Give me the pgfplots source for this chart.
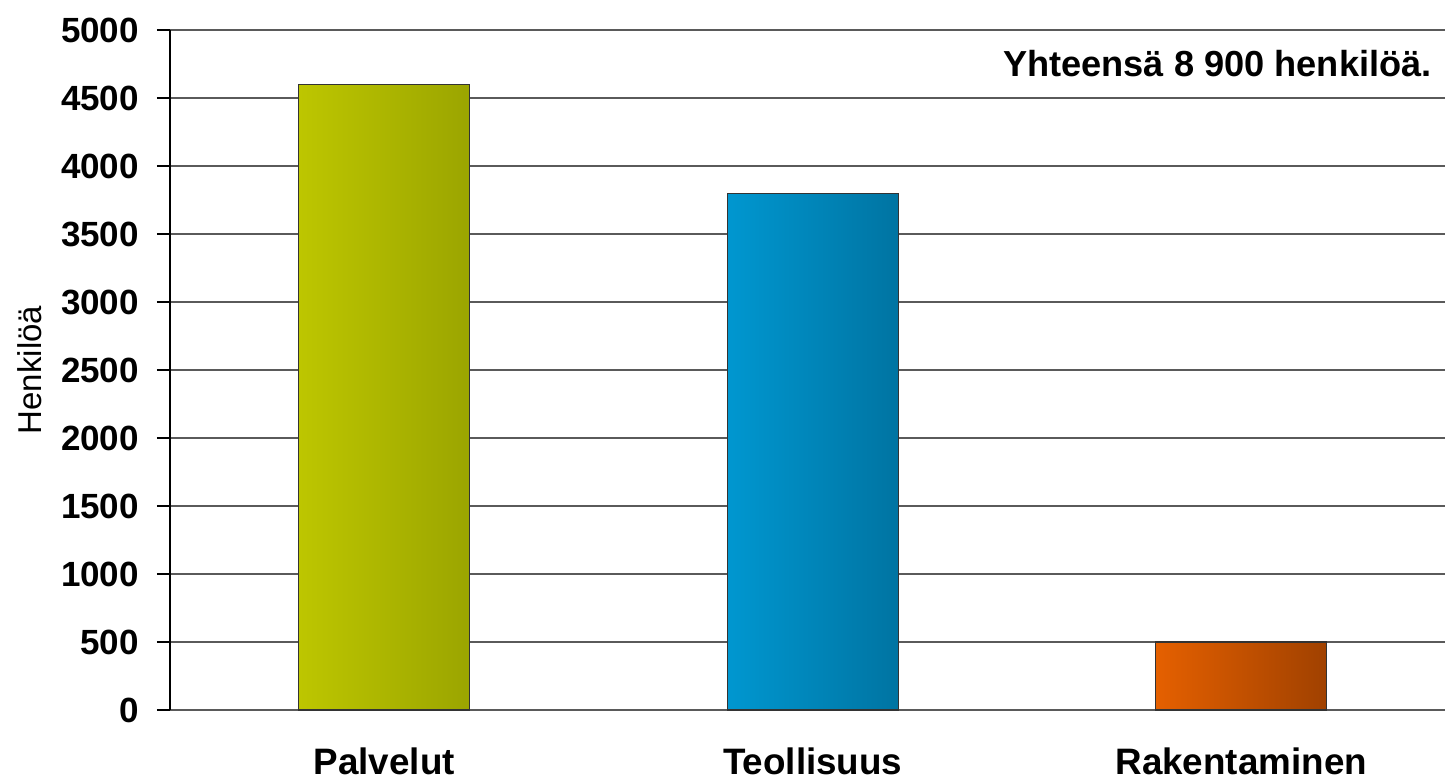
\documentclass[border=0pt]{standalone}
\usepackage{fontspec}
\setmainfont{Liberation Sans}
\usepackage{pgfplots}
\pgfplotsset{compat=1.18}
\usetikzlibrary{calc}
\definecolor{gA}{HTML}{BDC600}
\definecolor{gB}{HTML}{9BA500}
\definecolor{bA}{HTML}{0097D0}
\definecolor{bB}{HTML}{0074A2}
\definecolor{oA}{HTML}{E56000}
\definecolor{oB}{HTML}{A04100}
\definecolor{gridc}{HTML}{5A5A5A}
\begin{document}
\begin{tikzpicture}
\begin{axis}[
  scale only axis,
  width=642.75pt, height=340pt,
  xmin=-0.5, xmax=2.5,
  ymin=0, ymax=5000,
  ytick={0,500,...,5000},
  xtick={0,1,2},
  xticklabels={Palvelut,Teollisuus,Rakentaminen},
  axis x line*=bottom,
  axis y line*=left,
  x axis line style={draw=none},
  y axis line style={black, line width=1pt},
  ymajorgrids,
  major grid style={gridc, line width=1pt},
  major x tick style={draw=none},
  ytick style={black, line width=1pt},
  tick align=outside,
  major tick length=6.5pt,
  /pgf/number format/assume math mode=true,
  /pgf/number format/set thousands separator={},
  yticklabel style={font=\fontsize{17.5}{20}\selectfont\bfseries, xshift=-5.5pt},
  xticklabel style={font=\fontsize{18.4}{21}\selectfont\bfseries, yshift=-9pt},
  ylabel={Henkilöä},
  ylabel style={font=\fontsize{16.5}{19}\selectfont, at={(rel axis cs:0,0.5)}, anchor=center, yshift=70pt},
  clip=false,
]
\addplot[ybar, bar width=85.5pt, draw=black!80, line width=0.6pt, left color=gA, right color=gB] coordinates {(0,4600)};
\addplot[ybar, bar width=85.5pt, draw=black!80, line width=0.6pt, left color=bA, right color=bB] coordinates {(1,3800)};
\addplot[ybar, bar width=85.5pt, draw=black!80, line width=0.6pt, left color=oA, right color=oB] coordinates {(2,500)};
\node[anchor=east, inner sep=0pt, font=\fontsize{18.1}{21}\selectfont\bfseries] at (rel axis cs:1,0.95) [xshift=-11.75pt] {Yhteensä 8 900 henkilöä.};
\end{axis}
\pgfresetboundingbox
\path ($(current axis.south west)+(-85pt,-35.5pt)$) rectangle ($(current axis.north east)+(-5.25pt,15pt)$);
\end{tikzpicture}
\end{document}
